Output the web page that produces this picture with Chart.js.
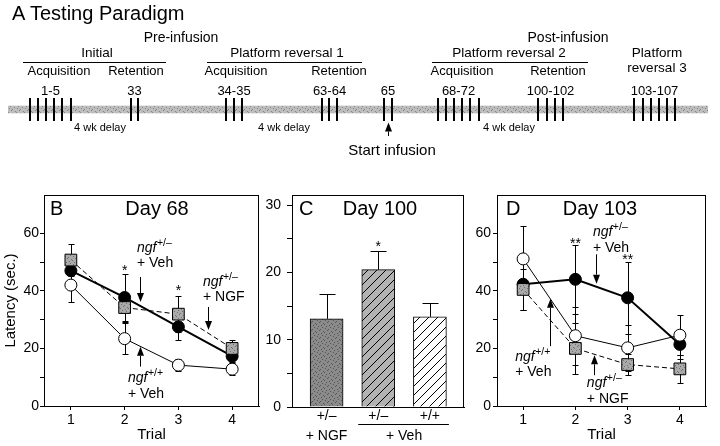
<!DOCTYPE html>
<html>
<head>
<meta charset="utf-8">
<script src="https://cdn.jsdelivr.net/npm/chart.js@4.4.1/dist/chart.umd.min.js"></script>
<style>
  html, body { margin: 0; padding: 0; background: #fff; }
  body { width: 720px; height: 446px; position: relative; overflow: hidden; }
  .box { position: absolute; }
</style>
</head>
<body>
<div class="box" style="left:0;top:0;width:720px;height:180px"><canvas id="chart_a"></canvas></div>
<div class="box" style="left:0;top:180px;width:268px;height:266px"><canvas id="chart_b"></canvas></div>
<div class="box" style="left:260px;top:180px;width:210px;height:266px"><canvas id="chart_c"></canvas></div>
<div class="box" style="left:470px;top:180px;width:250px;height:266px"><canvas id="chart_d"></canvas></div>
<script>
// panel A: training sessions on the schematic time line
var sessionNames = ["1-5", "33", "34-35", "63-64", "65", "68-72", "100-102", "103-107"];
var sessionTicks = [[30, 38, 46, 54, 62, 71], [131, 138], [226, 234, 242], [322, 329, 337],
                    [384, 392], [438, 446, 454, 462, 470, 479], [538, 547, 555, 563], [634, 643, 651, 659, 667, 675]];

// panels B and D: latency (sec.) per trial
var trials = [1, 2, 3, 4];
var b_hetVeh = [47.0, 37.7, 27.5, 17.3];
var b_hetVehErr = [4, 8, 4.5, 2];
var b_hetNgf = [50.7, 34.2, 31.9, 20.0];
var b_hetNgfErr = [5.5, 5, 6.3, 3];
var b_wtVeh = [42.0, 23.4, 14.2, 12.8];
var b_wtVehErr = [6, 5.5, 2, 2];

var d_hetVeh = [42.3, 44.0, 37.6, 21.4];
var d_hetVehErr = [9, 12, 12.5, 5];
var d_hetNgf = [40.5, 20.0, 14.4, 12.9];
var d_hetNgfErr = [7, 9, 3.7, 4.8];
var d_wtVeh = [51.1, 24.4, 20.2, 24.6];
var d_wtVehErr = [11.6, 10, 8, 7];

// panel C: day 100 latency
var cGenotype = ["+/\u2013", "+/\u2013", "+/+"];
var cValues = [13.1, 20.4, 13.4];
var cErr = [3.7, 2.8, 2.0];

var yTicksBD = [0, 10, 20, 30, 40, 50, 60];
var yTicksC = [0, 5, 10, 15, 20, 25, 30];

var FONT = "'Liberation Sans', Arial, Helvetica, sans-serif";
Chart.defaults.font.family = FONT;
Chart.defaults.font.size = 14;
Chart.defaults.color = '#000';
Chart.defaults.animation = false;
Chart.defaults.events = [];
Chart.defaults.plugins.legend.display = false;
Chart.defaults.plugins.tooltip.enabled = false;

function makePattern(bg, fg, kind, n) {
  var c = document.createElement('canvas');
  c.width = n; c.height = n;
  var g = c.getContext('2d');
  g.fillStyle = bg; g.fillRect(0, 0, n, n);
  if (kind === 'dots') {
    g.fillStyle = fg;
    [[0, 0], [2, 2], [1, 4], [3, 6], [5, 1], [6, 3], [4, 5], [7, 7]].forEach(function (p) { g.fillRect(p[0] % n, p[1] % n, 1, 1); });
  } else if (kind === 'hatch') {
    g.strokeStyle = fg; g.lineWidth = 1;
    g.beginPath();
    g.moveTo(-1, n + 1); g.lineTo(n + 1, -1);
    g.moveTo(-1, 1); g.lineTo(1, -1);
    g.moveTo(n - 1, n + 1); g.lineTo(n + 1, n - 1);
    g.stroke();
  }
  return g.createPattern(c, 'repeat');
}
var bandFill = makePattern('#bdbdbd', '#858585', 'dots', 8);
var squareFill = makePattern('#aaaaaa', '#6e6e6e', 'dots', 8);
var barFills = [makePattern('#8a8a8a', '#555555', 'dots', 8),
                makePattern('#b2b2b2', '#000000', 'hatch', 9),
                makePattern('#ffffff', '#000000', 'hatch', 9)];

function pts(values) { return trials.map(function (t, i) { return { x: t, y: values[i] }; }); }

function drawErrors(chart, cap) {
  var ctx = chart.ctx, ys = chart.scales.y;
  ctx.save();
  ctx.strokeStyle = '#000'; ctx.lineWidth = 1;
  chart.data.datasets.forEach(function (ds, i) {
    if (!ds.errors) return;
    chart.getDatasetMeta(i).data.forEach(function (el, k) {
      var v = ds.data[k].y, e = ds.errors[k];
      var x = Math.round(el.x) + 0.5;
      var top = Math.round(ys.getPixelForValue(v + e)) + 0.5;
      var bot = ds.errorUpOnly ? ys.getPixelForValue(v) : Math.round(ys.getPixelForValue(v - e)) + 0.5;
      ctx.beginPath();
      ctx.moveTo(x, top); ctx.lineTo(x, bot);
      ctx.moveTo(x - cap, top); ctx.lineTo(x + cap, top);
      if (!ds.errorUpOnly) { ctx.moveTo(x - cap, bot); ctx.lineTo(x + cap, bot); }
      ctx.stroke();
    });
  });
  ctx.restore();
}

var errorBars = {
  id: 'errorBars',
  beforeDatasetsDraw: function (chart, args, opts) { if (!opts.after) drawErrors(chart, opts.cap || 3); },
  afterDatasetsDraw: function (chart, args, opts) { if (opts.after) drawErrors(chart, opts.cap || 3); }
};

function arrow(ctx, x, y0, y1) {
  var dir = y1 > y0 ? 1 : -1, h = 9;
  x = Math.round(x) + 0.5;
  ctx.beginPath(); ctx.moveTo(x, y0); ctx.lineTo(x, y1 - dir * h); ctx.stroke();
  ctx.beginPath(); ctx.moveTo(x, y1); ctx.lineTo(x - 3.5, y1 - dir * h); ctx.lineTo(x + 3.5, y1 - dir * h);
  ctx.closePath(); ctx.fill();
}

var notes = {
  id: 'notes',
  afterDraw: function (chart, args, o) {
    var ctx = chart.ctx, xs = chart.scales.x, ys = chart.scales.y, a = chart.chartArea;
    ctx.save();
    ctx.strokeStyle = '#000'; ctx.fillStyle = '#000'; ctx.lineWidth = 1;
    // frame
    ctx.strokeRect(Math.round(a.left) + 0.5, Math.round(a.top) + 0.5, Math.round(a.right - a.left) - 1, Math.round(a.bottom - a.top));
    // panel letter + title
    ctx.font = '20px ' + FONT;
    ctx.textAlign = 'left'; ctx.textBaseline = 'alphabetic';
    ctx.fillText(o.letter, a.left + o.letterDx, a.top + 20);
    ctx.textAlign = 'center';
    ctx.fillText(o.title, a.left + o.titleCx, a.top + 20);
    // significance stars
    ctx.font = '14px ' + FONT;
    (o.stars || []).forEach(function (s) { ctx.fillText(s[2], xs.getPixelForValue(s[0]), ys.getPixelForValue(s[1]) + 8); });
    // group labels with arrows
    (o.labels || []).forEach(function (l) {
      var x = xs.getPixelForValue(l.x), y = ys.getPixelForValue(l.y);
      ctx.textAlign = 'left';
      ctx.font = 'italic 14px ' + FONT;
      ctx.fillText('ngf', x, y);
      var w = ctx.measureText('ngf').width;
      ctx.font = '10.5px ' + FONT;
      ctx.fillText(l.sup, x + w + 0.5, y - 6);
      ctx.font = '14px ' + FONT;
      ctx.fillText(l.line2, x, y + 15.5);
      arrow(ctx, xs.getPixelForValue(l.ax), ys.getPixelForValue(l.a0), ys.getPixelForValue(l.a1));
    });
    // treatment row under the category labels
    (o.groups || []).forEach(function (g) {
      var x0 = xs.getPixelForValue(g.from), x1 = xs.getPixelForValue(g.to);
      ctx.textAlign = 'center'; ctx.font = '14px ' + FONT;
      ctx.fillText(g.text, (x0 + x1) / 2, a.bottom + 33);
      if (g.to !== g.from) {
        ctx.beginPath();
        ctx.moveTo(x0 - 20, Math.round(a.bottom + 17) + 0.5);
        ctx.lineTo(x1 + 19, Math.round(a.bottom + 17) + 0.5);
        ctx.stroke();
      }
    });
    ctx.restore();
  }
};

function yAxis(max, ticks, width, every, tl, pad, title) {
  return {
    type: 'linear', min: 0, max: max,
    afterBuildTicks: function (s) { s.ticks = ticks.map(function (v) { return { value: v }; }); },
    afterFit: function (s) { s.width = width; },
    ticks: { autoSkip: false, padding: pad, font: { size: 14 },
             callback: function (v) { return v % every === 0 ? v : ''; } },
    grid: { drawOnChartArea: false, tickLength: tl, color: '#000' },
    border: { color: '#000' },
    title: title ? { display: true, text: title, font: { size: 15 }, padding: { top: 2, bottom: 0 } } : { display: false }
  };
}

function trialAxis(height) {
  return {
    type: 'linear', min: 0.5, max: 4.5,
    afterBuildTicks: function (s) { s.ticks = trials.map(function (v) { return { value: v }; }); },
    afterFit: function (s) { s.height = height; },
    ticks: { autoSkip: false, padding: 2, font: { size: 14 } },
    grid: { drawOnChartArea: false, tickLength: 4, color: '#000' },
    border: { color: '#000' },
    title: { display: true, text: 'Trial', font: { size: 15 }, padding: { top: 0, bottom: 2 } }
  };
}

function lineSets(hetVeh, hetVehErr, hetNgf, hetNgfErr, wtVeh, wtVehErr) {
  return [
    { label: 'ngf+/\u2013 + NGF', data: pts(hetNgf), errors: hetNgfErr, order: 0,
      borderColor: '#000', borderWidth: 1, borderDash: [5, 3],
      pointStyle: 'rect', pointRadius: 8.3, pointBorderWidth: 1, pointBorderColor: '#000', pointBackgroundColor: squareFill },
    { label: 'ngf+/+ + Veh', data: pts(wtVeh), errors: wtVehErr, order: 1,
      borderColor: '#000', borderWidth: 1,
      pointStyle: 'circle', pointRadius: 6, pointBorderWidth: 1, pointBorderColor: '#000', pointBackgroundColor: '#fff' },
    { label: 'ngf+/\u2013 + Veh', data: pts(hetVeh), errors: hetVehErr, order: 2,
      borderColor: '#000', borderWidth: 2,
      pointStyle: 'circle', pointRadius: 6, pointBorderWidth: 1, pointBorderColor: '#000', pointBackgroundColor: '#000' }
  ];
}

// ---------- panel A ----------
var aTexts = [
  ['A', 12, 20, 20, 'left'], ['Testing Paradigm', 30, 20, 20, 'left'],
  ['Pre-infusion', 181, 42, 14, 'center'], ['Post-infusion', 568, 42, 14, 'center'],
  ['Initial', 97, 57, 13.5, 'center'], ['Platform reversal 1', 287, 57, 13.5, 'center'],
  ['Platform reversal 2', 509, 57, 13.5, 'center'],
  ['Platform', 657, 57, 13.5, 'center'], ['reversal 3', 657, 72, 13.5, 'center'],
  ['Acquisition', 59, 75, 13, 'center'], ['Retention', 136, 75, 13, 'center'],
  ['Acquisition', 236, 75, 13, 'center'], ['Retention', 339, 75, 13, 'center'],
  ['Acquisition', 462, 75, 13, 'center'], ['Retention', 558, 75, 13, 'center'],
  ['4 wk delay', 100, 131, 11, 'center'], ['4 wk delay', 284, 131, 11, 'center'],
  ['4 wk delay', 509, 131, 11, 'center'],
  ['Start infusion', 392, 155, 15, 'center']
];
var aRules = [[23, 166], [207, 362], [432, 588]];

var timeline = {
  id: 'timeline',
  beforeDatasetsDraw: function (chart) {
    var ctx = chart.ctx, xs = chart.scales.x, ys = chart.scales.y;
    var yc = ys.getPixelForValue(0);
    ctx.save();
    ctx.fillStyle = bandFill;
    ctx.fillRect(xs.getPixelForValue(8), yc - 3.8, xs.getPixelForValue(708) - xs.getPixelForValue(8), 7.6);
    ctx.restore();
  },
  afterDraw: function (chart) {
    var ctx = chart.ctx, xs = chart.scales.x, ys = chart.scales.y;
    ctx.save();
    ctx.fillStyle = '#000'; ctx.strokeStyle = '#000'; ctx.lineWidth = 1;
    ctx.textBaseline = 'alphabetic';
    aTexts.forEach(function (t) {
      ctx.font = t[3] + 'px ' + FONT; ctx.textAlign = t[4];
      ctx.fillText(t[0], t[1], t[2]);
    });
    aRules.forEach(function (r) {
      ctx.beginPath(); ctx.moveTo(r[0], 62.5); ctx.lineTo(r[1], 62.5); ctx.stroke();
    });
    ctx.font = '13px ' + FONT; ctx.textAlign = 'center';
    sessionTicks.forEach(function (g, i) {
      var mid = (g[0] + g[g.length - 1]) / 2;
      ctx.fillText(sessionNames[i], xs.getPixelForValue(mid), 95);
    });
    var inf = sessionTicks[4];
    arrow(ctx, xs.getPixelForValue((inf[0] + inf[1]) / 2), 136, ys.getPixelForValue(0) + 13);
    ctx.restore();
  }
};

new Chart('chart_a', {
  type: 'scatter',
  data: { datasets: [{
    data: [].concat.apply([], sessionTicks.map(function (g) { return g.map(function (x) { return { x: x, y: 0 }; }); })),
    pointStyle: 'line', pointRotation: 90, pointRadius: 11.6, pointBorderWidth: 2, pointBorderColor: '#000'
  }] },
  options: {
    responsive: true, maintainAspectRatio: false,
    layout: { padding: 0, autoPadding: false },
    scales: { x: { display: false, min: 0, max: 720 }, y: { display: false, min: -70.5, max: 109.5 } }
  },
  plugins: [timeline]
});

// ---------- panel B ----------
new Chart('chart_b', {
  type: 'line',
  data: { datasets: lineSets(b_hetVeh, b_hetVehErr, b_hetNgf, b_hetNgfErr, b_wtVeh, b_wtVehErr) },
  options: {
    responsive: true, maintainAspectRatio: false,
    layout: { padding: { top: 15, right: 9, left: 0, bottom: 0 }, autoPadding: false },
    scales: { x: trialAxis(40), y: yAxis(73.3, yTicksBD, 44, 20, 4, 1, 'Latency (sec.)') },
    plugins: {
      errorBars: { cap: 3 },
      notes: {
        letter: 'B', letterDx: 6, title: 'Day 68', titleCx: 113,
        stars: [[2, 48.3, '*'], [3, 41.3, '*']],
        labels: [
          { x: 2.23, y: 53.5, sup: '+/\u2013', line2: '+ Veh', ax: 2.286, a0: 44.8, a1: 36.1 },
          { x: 3.458, y: 41.7, sup: '+/\u2013', line2: '+ NGF', ax: 3.551, a0: 34.4, a1: 26.4 },
          { x: 2.062, y: 8.3, sup: '+/+', line2: '+ Veh', ax: 2.286, a0: 13.7, a1: 20.6 }
        ]
      }
    }
  },
  plugins: [errorBars, notes]
});

// ---------- panel C ----------
new Chart('chart_c', {
  type: 'bar',
  data: { datasets: [{
    data: cValues.map(function (v, i) { return { x: i + 1, y: v }; }),
    errors: cErr, errorUpOnly: true,
    backgroundColor: barFills, borderColor: '#000', borderWidth: 1, barThickness: 33
  }] },
  options: {
    responsive: true, maintainAspectRatio: false,
    layout: { padding: { top: 15, right: 6, left: 0, bottom: 0 }, autoPadding: false },
    scales: {
      x: {
        type: 'linear', min: 0.33, max: 3.66, offset: false,
        afterBuildTicks: function (s) { s.ticks = cGenotype.map(function (g, i) { return { value: i + 1 }; }); },
        afterFit: function (s) { s.height = 39; },
        ticks: { autoSkip: false, padding: 1, font: { size: 14 },
                 callback: function (v) { return cGenotype[Math.round(v) - 1]; } },
        grid: { offset: false, drawOnChartArea: false, drawTicks: false, color: '#000' },
        border: { color: '#000' }
      },
      y: yAxis(31.5, yTicksC, 32, 10, 5, 6, null)
    },
    plugins: {
      errorBars: { cap: 8, after: true },
      notes: {
        letter: 'C', letterDx: 7, title: 'Day 100', titleCx: 88,
        stars: [[2, 24.4, '*']],
        groups: [{ text: '+ NGF', from: 1, to: 1 }, { text: '+ Veh', from: 2, to: 3 }]
      }
    }
  },
  plugins: [errorBars, notes]
});

// ---------- panel D ----------
new Chart('chart_d', {
  type: 'line',
  data: { datasets: lineSets(d_hetVeh, d_hetVehErr, d_hetNgf, d_hetNgfErr, d_wtVeh, d_wtVehErr) },
  options: {
    responsive: true, maintainAspectRatio: false,
    layout: { padding: { top: 15, right: 14, left: 0, bottom: 0 }, autoPadding: false },
    scales: { x: trialAxis(40), y: yAxis(73.3, yTicksBD, 27, 20, 4, 2, null) },
    plugins: {
      errorBars: { cap: 3 },
      notes: {
        letter: 'D', letterDx: 9, title: 'Day 103', titleCx: 103,
        stars: [[2, 57.6, '**'], [3, 52.0, '**']],
        labels: [
          { x: 2.335, y: 59, sup: '+/\u2013', line2: '+ Veh', ax: 2.398, a0: 52.7, a1: 42.5 },
          { x: 0.849, y: 15.8, sup: '+/+', line2: '+ Veh', ax: 1.505, a0: 20.8, a1: 37.3 },
          { x: 2.22, y: 6.5, sup: '+/\u2013', line2: '+ NGF', ax: 2.36, a0: 10.7, a1: 17.6 }
        ]
      }
    }
  },
  plugins: [errorBars, notes]
});
</script>
</body>
</html>
